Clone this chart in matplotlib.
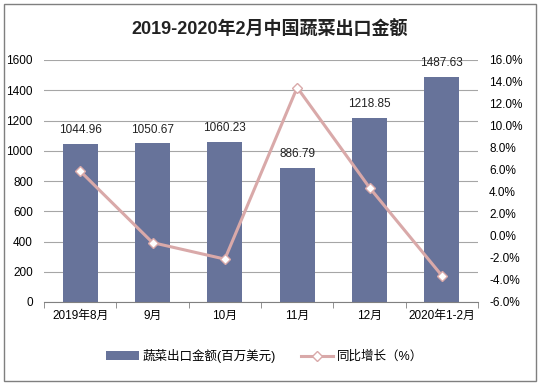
import matplotlib.pyplot as plt
from matplotlib.patches import Rectangle
from matplotlib.ticker import FuncFormatter

plt.rcParams['font.family'] = ['Liberation Sans', 'Noto Sans CJK SC', 'DejaVu Sans']

months = ['2019年8月', '9月', '10月', '11月', '12月', '2020年1-2月']
export_value = [1044.96, 1050.67, 1060.23, 886.79, 1218.85, 1487.63]
yoy_growth = [5.9, -0.6, -2.1, 13.5, 4.4, -3.6]

bar_color = '#67739A'
line_color = '#D9A9A9'

fig = plt.figure(figsize=(5.4, 3.86), dpi=100)
fig.patches.append(Rectangle((4 / 540, 5 / 386), 532 / 540, 377 / 386,
                             transform=fig.transFigure, fill=False,
                             edgecolor='#7F7F7F', linewidth=1))

ax = fig.add_axes([44 / 540, 1 - 302 / 386, 434 / 540, 242 / 386])
x = range(len(months))
bars = ax.bar(x, export_value, width=0.48, color=bar_color, zorder=2,
              label='蔬菜出口金额(百万美元)')
for xi, v in zip(x, export_value):
    ax.text(xi, v + 50, f'{v:.2f}', ha='center', va='bottom', fontsize=8.5, color='#222222')

ax.set_xlim(-0.5, len(months) - 0.5)
ax.set_ylim(0, 1600)
ax.set_yticks(range(0, 1601, 200))
ax.grid(axis='y', color='#A6A6A6', linewidth=0.8, zorder=0)
ax.set_xticks(list(x))
ax.set_xticklabels(months, fontsize=8.5)
ax.set_xticks([i - 0.5 for i in range(len(months) + 1)], minor=True)
ax.tick_params(axis='x', which='major', length=0, pad=6)
ax.tick_params(axis='x', which='minor', length=4, color='#808080')
ax.tick_params(axis='y', length=0, labelsize=8.5, pad=8)
for s in ['top', 'left', 'right']:
    ax.spines[s].set_visible(False)
ax.spines['bottom'].set_color('#808080')

ax2 = ax.twinx()
line, = ax2.plot(x, yoy_growth, color=line_color, linewidth=2.2, marker='D',
                 markersize=5, markerfacecolor='white', markeredgecolor=line_color,
                 markeredgewidth=1, label='同比增长（%）', zorder=3)
ax2.set_ylim(-6, 16)
ax2.set_yticks(range(-6, 17, 2))
ax2.yaxis.set_major_formatter(FuncFormatter(lambda v, p: f'{v:.1f}%'))
ax2.tick_params(axis='y', length=0, labelsize=8.5, pad=8)
for s in ['top', 'left', 'right', 'bottom']:
    ax2.spines[s].set_visible(False)

fig.text(0.5, 1 - 30 / 386, '2019-2020年2月中国蔬菜出口金额', ha='center', va='center',
         fontsize=13, fontweight='bold', color='#222222')

fig.legend([bars, line], ['蔬菜出口金额(百万美元)', '同比增长（%）'],
           loc='center', bbox_to_anchor=(0.49, 1 - 356 / 386), ncol=2,
           frameon=False, fontsize=9, handlelength=2.6, columnspacing=2.0,
           handletextpad=0.3)

fig.savefig('out.png', dpi=100)
